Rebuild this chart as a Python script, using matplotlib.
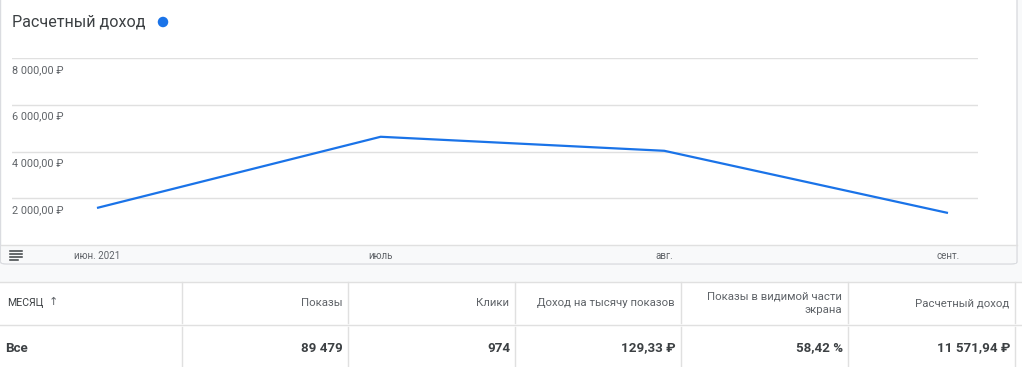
import matplotlib
matplotlib.use("Agg")
import matplotlib.pyplot as plt
from matplotlib.patches import FancyBboxPatch, Rectangle, Ellipse
from matplotlib.lines import Line2D

plt.rcParams['font.family'] = ['Roboto', 'DejaVu Sans']

W, H = 1022, 367

# данные графика
months = ['июн. 2021', 'июль', 'авг.', 'сент.']
revenue = [1585, 4630, 4030, 1370]
y_ticks = [2000, 4000, 6000, 8000]
y_labels = ['2 000,00 ₽', '4 000,00 ₽', '6 000,00 ₽', '8 000,00 ₽']

# данные таблицы
col_names = ['Показы', 'Клики', 'Доход на тысячу показов',
             'Показы в видимой части\nэкрана', 'Расчетный доход']
col_values = ['89 479', '974', '129,33 ₽', '58,42 %', '11 571,94 ₽']
col_edges = [182, 348, 515, 681, 848, 1015]

BLUE = '#1a73e8'
GRID = '#e0e0e0'
GRAY = '#5f6368'
DARK = '#3c4043'
BG = '#f8f9fa'


def fx(px):
    return px / W


def fy(py):
    return 1 - py / H


fig = plt.figure(figsize=(W / 100, H / 100), dpi=100)
fig.patch.set_facecolor(BG)

# белая карточка с графиком
card = FancyBboxPatch((fx(0.5), fy(264)), fx(1017) - fx(0.5), fy(-5) - fy(264),
                      boxstyle='round,pad=0,rounding_size=0.006',
                      transform=fig.transFigure, facecolor='white',
                      edgecolor='#dadce0', lw=1, zorder=0)
fig.patches.append(card)
# серая полоса внизу карточки
fig.patches.append(Rectangle((fx(1.5), fy(263)), fx(1016) - fx(1.5), fy(245) - fy(263),
                             transform=fig.transFigure, facecolor=BG,
                             edgecolor='none', zorder=1))
fig.lines.append(Line2D([fx(1), fx(1017)], [fy(245), fy(245)], color=GRID, lw=1,
                        transform=fig.transFigure, zorder=2))

# гамбургер-иконка
for i, py in enumerate([251, 254, 257, 260]):
    x2 = 22 if i < 3 else 18
    fig.lines.append(Line2D([fx(10), fx(x2)], [fy(py), fy(py)], color='#3c4043', lw=1.1,
                            transform=fig.transFigure, zorder=3))

# заголовок
fig.text(fx(12), fy(22), 'Расчетный доход', fontsize=11.6, color=DARK,
         va='center', ha='left')
fig.patches.append(Ellipse((fx(163), fy(22)), 10.5 / W, 10.5 / H, transform=fig.transFigure,
                           facecolor=BLUE, edgecolor='none'))

# ось графика
ax = fig.add_axes([fx(12), fy(245), fx(978) - fx(12), fy(58) - fy(245)])
ax.set_facecolor('none')
ax.set_zorder(5)
xs = list(range(len(months)))
ax.plot(xs, revenue, color=BLUE, lw=1.6, solid_capstyle='butt', zorder=3)
ax.set_xlim(-0.2996, 3.1058)
ax.set_ylim(0, 8000)
for v in y_ticks:
    ax.axhline(v, color=GRID, lw=1, zorder=1)
ax.set_yticks([])
for v, lab in zip(y_ticks, y_labels):
    ax.annotate(lab, xy=(0, v), xycoords=('axes fraction', 'data'),
                xytext=(0, -5), textcoords='offset points',
                ha='left', va='top', fontsize=7.8, color=GRAY)
ax.set_xticks(xs)
ax.set_xticklabels(months)
ax.tick_params(axis='x', length=0, pad=4, labelsize=7, labelcolor=GRAY)
for s in ax.spines.values():
    s.set_visible(False)

# таблица
fig.patches.append(Rectangle((0, 0), 1, fy(282), transform=fig.transFigure,
                             facecolor='white', edgecolor='none', zorder=0))
fig.lines.append(Line2D([0, 1], [fy(282), fy(282)], color=GRID, lw=1,
                        transform=fig.transFigure))
fig.lines.append(Line2D([0, 1], [fy(325), fy(325)], color=GRID, lw=1,
                        transform=fig.transFigure))
for e in col_edges:
    fig.lines.append(Line2D([fx(e), fx(e)], [fy(282), fy(323)], color=GRID, lw=1,
                            transform=fig.transFigure))
    fig.lines.append(Line2D([fx(e), fx(e)], [fy(327), fy(367)], color=GRID, lw=1,
                            transform=fig.transFigure))

fig.text(fx(7), fy(303), 'МЕСЯЦ', fontsize=7.6, color=DARK, va='center', ha='left')
fig.text(fx(49), fy(302), '↑', fontsize=8, color=GRAY, va='center', ha='left')
fig.text(fx(5), fy(348), 'Все', fontsize=9.6, color=DARK, va='center', ha='left',
         fontweight='bold')
for name, val, right in zip(col_names, col_values, col_edges[1:]):
    fig.text(fx(right - 6), fy(303), name, fontsize=8.2, color=GRAY, va='center',
             ha='right', multialignment='right', linespacing=1.45)
    fig.text(fx(right - 5), fy(348), val, fontsize=9.6, color=DARK, va='center',
             ha='right', fontweight='bold')

fig.savefig('out.png', dpi=100, facecolor=fig.get_facecolor())
